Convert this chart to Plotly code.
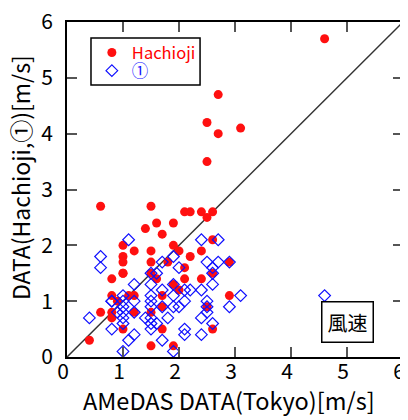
import plotly.graph_objects as go

# Hachioji (red filled circles)
hachioji_x = [4.6, 2.7, 2.5, 2.7, 3.1, 2.5, 0.6, 1.5, 2.1, 2.2, 2.4, 2.6, 2.5, 1.6, 1.9, 1.4, 1.7,
              1.0, 1.2, 1.5, 1.9, 2.0, 2.4, 2.6, 1.0, 1.0, 1.5, 1.8, 2.2, 2.1, 1.0, 1.5, 2.6, 0.8,
              1.6, 2.1, 2.4, 1.9, 2.0, 0.8, 1.1, 1.2, 1.7, 2.9, 0.9, 1.7, 2.5, 0.6, 0.8, 1.2, 1.5,
              0.8, 1.0, 1.7, 2.6, 0.4, 1.5, 1.9, 2.9, 1.0]
hachioji_y = [5.7, 4.7, 4.2, 4.0, 4.1, 3.5, 2.7, 2.7, 2.6, 2.6, 2.6, 2.6, 2.5, 2.4, 2.4, 2.3, 2.2,
              2.0, 1.9, 1.9, 2.0, 1.9, 1.9, 2.1, 1.8, 1.7, 1.7, 1.7, 1.8, 1.6, 1.5, 1.5, 1.5, 1.4,
              1.4, 1.4, 1.4, 1.3, 1.2, 1.1, 1.1, 1.1, 1.1, 1.1, 1.0, 0.9, 0.9, 0.8, 0.8, 0.8, 0.8,
              0.7, 0.5, 0.5, 0.5, 0.3, 0.2, 0.2, 1.7, 1.5]

# Site 1 (blue open diamonds)
site1_x = [4.6, 1.1, 2.4, 2.7, 0.6, 1.9, 0.6, 1.7, 2.5, 2.7, 2.9, 2.0, 2.6, 1.6, 2.6, 1.5, 1.2,
           1.5, 1.9, 2.6, 1.7, 2.1, 2.2, 2.4, 1.0, 1.5, 1.9, 3.1, 0.8, 1.2, 2.1, 2.5, 1.5, 1.7,
           1.9, 2.0, 2.5, 2.9, 1.0, 0.9, 1.2, 2.5, 0.4, 1.0, 1.4, 1.5, 1.8, 2.4, 1.0, 1.5, 1.6,
           2.6, 0.8, 1.5, 2.1, 1.2, 2.1, 2.4, 1.1, 1.7, 1.0, 1.9, 0.8, 1.0, 1.0, 1.5]
site1_y = [1.1, 2.1, 2.1, 2.1, 1.8, 1.8, 1.6, 1.7, 1.7, 1.7, 1.7, 1.6, 1.6, 1.5, 1.5, 1.5, 1.3,
           1.3, 1.3, 1.3, 1.2, 1.2, 1.2, 1.2, 1.1, 1.1, 1.1, 1.1, 1.0, 1.0, 1.0, 1.0, 0.9, 0.9,
           0.9, 0.9, 0.9, 0.9, 0.8, 0.8, 0.8, 0.8, 0.7, 0.7, 0.7, 0.7, 0.7, 0.7, 0.6, 0.6, 0.6,
           0.6, 0.5, 0.5, 0.5, 0.4, 0.4, 0.4, 0.3, 0.3, 0.1, 0.1, 1.0, 1.0, 0.9, 1.0]

diag = [0, 6]
ticks = [0, 1, 2, 3, 4, 5, 6]

FONT = "Noto Sans CJK JP, Liberation Sans, sans-serif"

fig = go.Figure()
fig.add_trace(go.Scatter(x=diag, y=diag, mode="lines", line=dict(color="#333333", width=1.5),
                         showlegend=False, hoverinfo="skip"))
fig.add_trace(go.Scatter(x=hachioji_x, y=hachioji_y, mode="markers", legend="legend",
                         name='<span style="color:#ff0000">Hachioji</span>',
                         marker=dict(symbol="circle", size=9, color="#ff1010", line=dict(width=0))))
fig.add_trace(go.Scatter(x=site1_x, y=site1_y, mode="markers", legend="legend2",
                         name='<span style="color:#1010ff">①</span>',
                         marker=dict(symbol="diamond-open", size=9, color="#1010ff", line=dict(width=1.2))))

axis_common = dict(range=[0, 6], tickvals=ticks, showgrid=False, zeroline=False,
                   showline=True, linecolor="black", linewidth=2, mirror="ticks",
                   ticks="inside", ticklen=10, tickwidth=1.5, tickcolor="#555555",
                   ticklabeloverflow="allow", automargin=False,
                   tickfont=dict(size=21, color="black", family=FONT))

leg_common = dict(xanchor="left", yanchor="middle", bgcolor="rgba(0,0,0,0)",
                  borderwidth=0, font=dict(size=16.5, family=FONT), itemwidth=30)

fig.update_layout(
    width=402, height=412,
    margin=dict(l=59, r=7, t=14, b=63, autoexpand=False),
    paper_bgcolor="white", plot_bgcolor="white",
    font=dict(family=FONT, color="black"),
    xaxis=dict(**axis_common, ticklabelshift=-4, ticklabelstandoff=-5),
    yaxis=dict(**axis_common, ticklabelstandoff=8),
    legend=dict(x=0.074, y=0.908, **leg_common),
    legend2=dict(x=0.074, y=0.854, **leg_common),
    shapes=[dict(type="rect", xref="paper", yref="paper", x0=0.0714, x1=0.396, y0=0.812, y1=0.952,
                 line=dict(color="black", width=1.5), fillcolor="rgba(0,0,0,0)", layer="above")],
    annotations=[
        dict(x=0.836, y=0.105, xref="paper", yref="paper", text="風速",
             xanchor="center", yanchor="middle",
             showarrow=False, font=dict(size=20, family=FONT, color="black"),
             bordercolor="black", borderwidth=1.5, borderpad=5, bgcolor="white"),
        dict(x=0.482, y=-0.128, xref="paper", yref="paper", text="AMeDAS DATA(Tokyo)[m/s]",
             xanchor="center", yanchor="middle", showarrow=False,
             font=dict(size=23.5, family=FONT, color="black")),
        dict(x=-0.138, y=0.536, xref="paper", yref="paper", text="DATA(Hachioji,①)[m/s]",
             textangle=-90, xanchor="center", yanchor="middle", showarrow=False,
             font=dict(size=23, family=FONT, color="black")),
    ],
    showlegend=True,
)

fig.write_html("out.html")
